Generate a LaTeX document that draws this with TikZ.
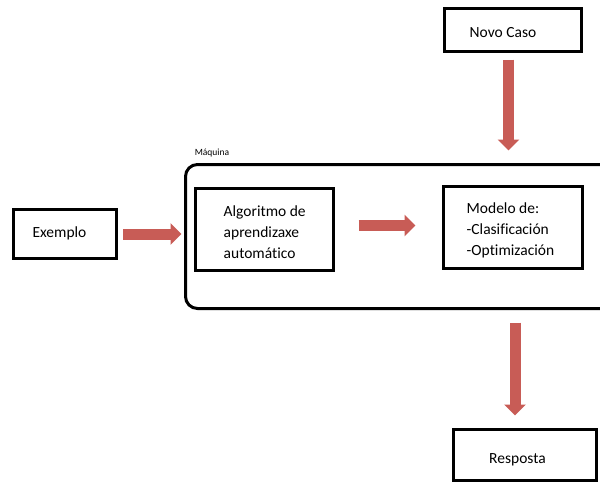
\documentclass[tikz,border=0pt]{standalone}
\usepackage{fontspec}
\setmainfont{Carlito}[Ligatures=NoCommon]
\usetikzlibrary{arrows.meta,calc}
\definecolor{arrowred}{RGB}{200,92,86}
\begin{document}
\begin{tikzpicture}[x=1pt,y=-1pt,
  box/.style={draw=black, line width=3pt, inner sep=0pt},
  lbl/.style={font=\fontsize{15.5}{21}\selectfont, align=left, inner sep=0pt},
  bigarrow/.style={draw=arrowred, line width=11pt, -{Triangle[width=21pt,length=11pt]}},
]
\useasboundingbox (0,0) rectangle (600,483);
\clip (0,0) rectangle (600,483);

% machine frame (runs off the right edge)
\node[box, rounded corners=12pt, minimum width=454.5pt, minimum height=144pt]
  (maq) at (412.75,236.5) {};
\node[font=\fontsize{9.5}{10}\selectfont, inner sep=0pt] (maqlbl) at (212,153) {Máquina};

% boxes
\node[box, minimum width=137pt, minimum height=43pt] (novo) at (513,30) {};
\node[box, minimum width=103pt, minimum height=49pt] (ex) at (65,234) {};
\node[box, minimum width=138pt, minimum height=82pt] (algo) at (264.5,229.5) {};
\node[box, minimum width=139pt, minimum height=82pt] (modelo) at (513,227.5) {};
\node[box, minimum width=143pt, minimum height=51pt] (resp) at (525,455) {};

% texts
\node[lbl, anchor=base] (novotxt) at (503,37) {Novo Caso};
\node[lbl, anchor=base] (extxt) at (59.5,237) {Exemplo};
\node[lbl, anchor=west] (algotxt) at (223.5,232.5) {Algoritmo de\\aprendizaxe\\automático};
\node[lbl, anchor=west] (modtxt) at (466.5,230) {Modelo de:\\-Clasificación\\-Optimización};
\node[lbl, anchor=base] (resptxt) at (517.5,463) {Resposta};

% arrow end points
\coordinate (topstart) at ([xshift=-4.5pt]novo.south);
\coordinate (topend) at (topstart |- maq.north);
\coordinate (botstart) at ([xshift=2pt]modelo.south |- maq.south);
\coordinate (botend) at (botstart |- resp.north);

% block arrows
\draw[bigarrow, shorten <=5pt, shorten >=2.5pt]
  (ex.east) -- (ex.east -| maq.west);
\draw[bigarrow, shorten <=23.5pt, shorten >=26.5pt]
  ([yshift=4pt]algo.east) -- ([yshift=4pt]algo.east -| modelo.west);
\draw[bigarrow, shorten <=6.5pt, shorten >=12.5pt] (topstart) -- (topend);
\draw[bigarrow, shorten <=12.5pt, shorten >=12.5pt] (botstart) -- (botend);
\end{tikzpicture}
\end{document}
